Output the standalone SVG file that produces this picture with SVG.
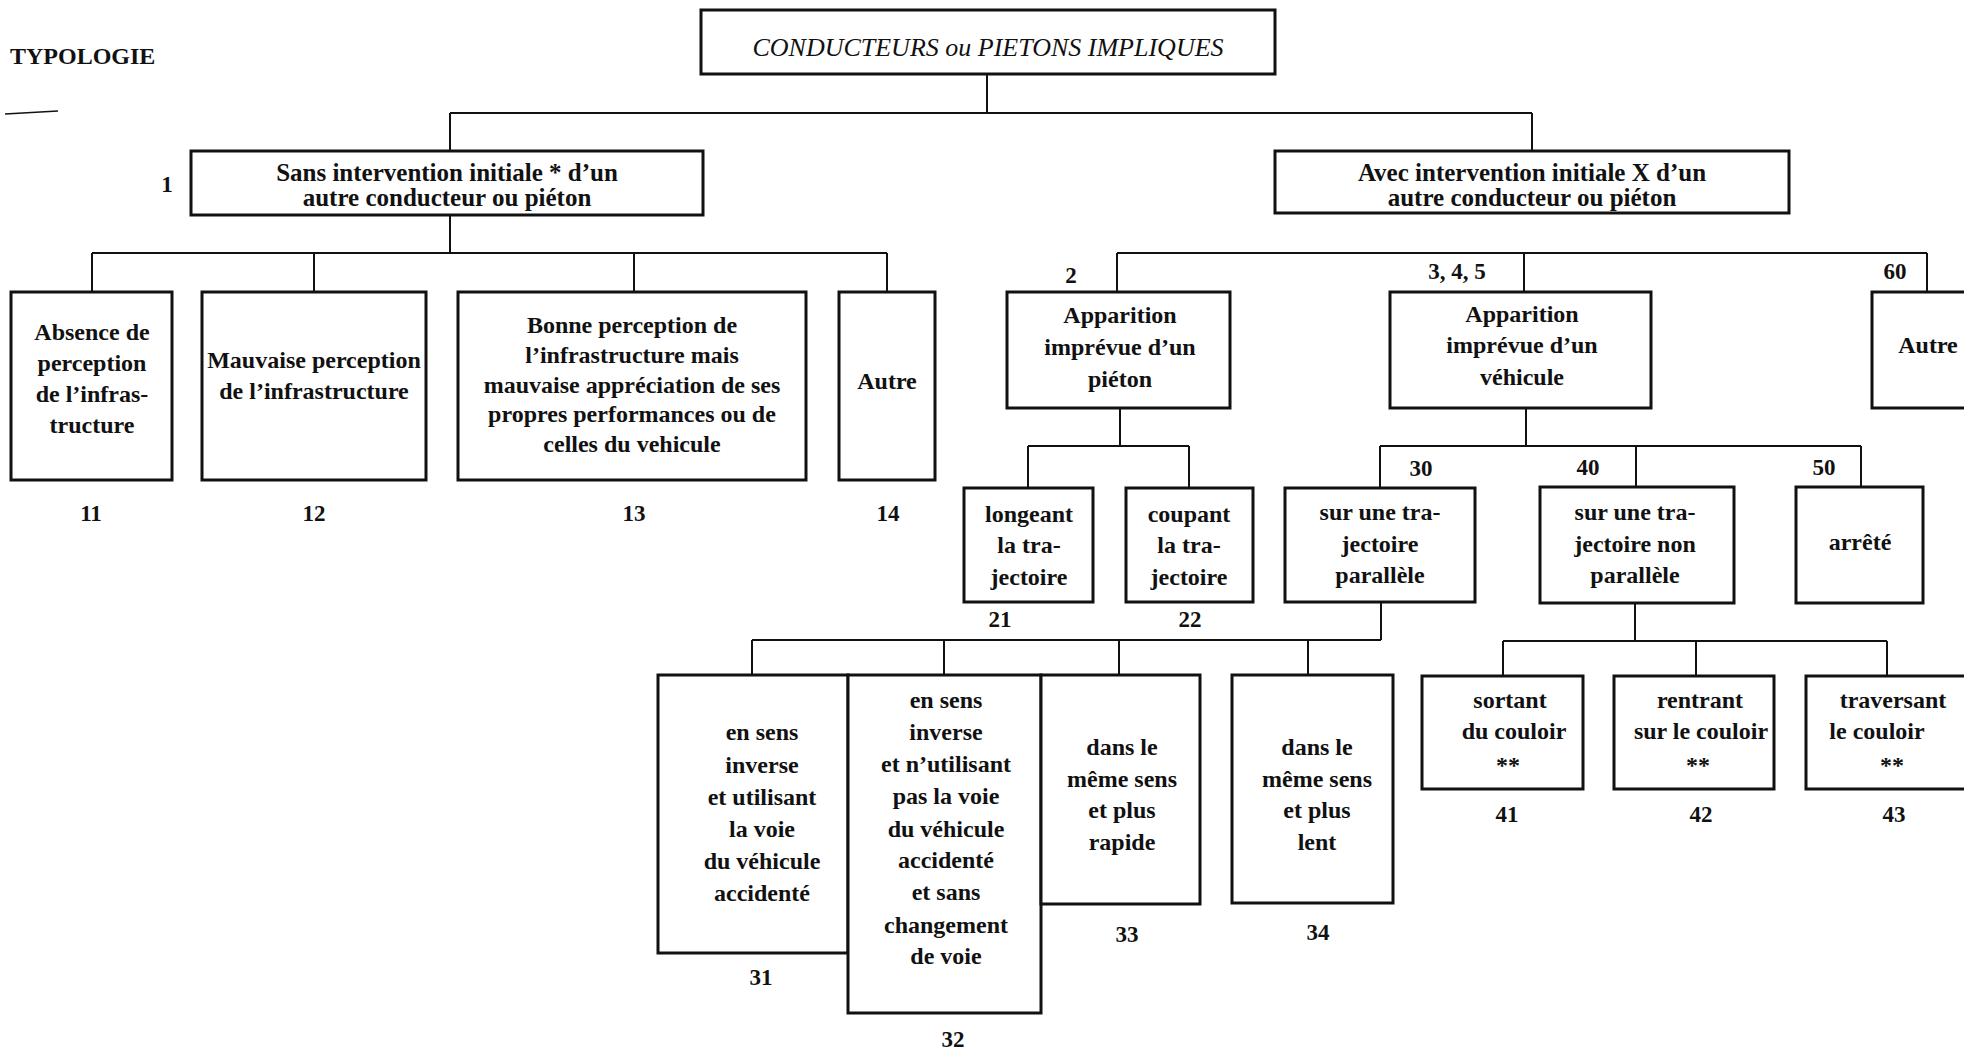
<svg xmlns="http://www.w3.org/2000/svg" width="1964" height="1051" viewBox="0 0 1964 1051">
<style>
.box{fill:#fff;stroke:#111;stroke-width:3}
.ln{stroke:#111;stroke-width:2;fill:none}
.t{font-family:"Liberation Serif","Times New Roman",serif;font-weight:bold;font-size:24px;text-anchor:middle;fill:#111}
.n{font-family:"Liberation Serif","Times New Roman",serif;font-weight:bold;font-size:23px;text-anchor:middle;fill:#111}
.ti{font-family:"Liberation Serif","Times New Roman",serif;font-style:italic;font-size:26px;text-anchor:middle;fill:#111}
</style>
<rect width="1964" height="1051" fill="#fff"/>

<g id="connectors">
  <path class="ln" d="M987 74V113M450 113H1532M450 113V151M1532 113V151"/>
  <path class="ln" d="M450 215V253M92 253H887M92 253V292M314 253V292M634 253V292M887 253V292"/>
  <path class="ln" d="M1117 253H1927M1117 253V292M1524 253V292M1927 253V292"/>
  <path class="ln" d="M1120 408V446M1028 446H1189M1028 446V487M1189 446V487"/>
  <path class="ln" d="M1526 408V446M1380 446H1861M1380 446V487M1636 446V487M1861 446V487"/>
  <path class="ln" d="M1381 602V640M752 640H1381M752 640V675M944 640V675M1119 640V675M1308 640V675"/>
  <path class="ln" d="M1635 603V641M1503 641H1887M1503 641V676M1696 641V676M1887 641V676"/>
</g>

<g id="typologie">
  <text x="10" y="64" font-family="Liberation Serif, Times New Roman, serif" font-weight="bold" font-size="24" fill="#111">TYPOLOGIE</text>
  <line x1="5" y1="114" x2="58" y2="111" stroke="#111" stroke-width="1.5"/>
</g>

<g id="root">
  <rect class="box" x="701" y="10" width="574" height="64"/>
  <text class="ti" x="988" y="56">CONDUCTEURS ou PIETONS IMPLIQUES</text>
</g>

<g id="n1">
  <rect class="box" x="191" y="151" width="512" height="64"/>
  <text class="t" x="447" y="181" style="font-size:25px">Sans intervention initiale * d’un</text>
  <text class="t" x="447" y="206" style="font-size:25px">autre conducteur ou piéton</text>
  <text class="n" x="167" y="192" font-weight="normal">1</text>
</g>

<g id="n2">
  <rect class="box" x="1275" y="151" width="514" height="62"/>
  <text class="t" x="1532" y="181" style="font-size:25px">Avec intervention initiale X d’un</text>
  <text class="t" x="1532" y="206" style="font-size:25px">autre conducteur ou piéton</text>
</g>

<g id="n11">
  <rect class="box" x="11" y="292" width="161" height="188"/>
  <text class="t" x="92" y="340">Absence de</text>
  <text class="t" x="92" y="371">perception</text>
  <text class="t" x="92" y="402">de l’infras-</text>
  <text class="t" x="92" y="433">tructure</text>
  <text class="n" x="91" y="521">11</text>
</g>

<g id="n12">
  <rect class="box" x="202" y="292" width="224" height="188"/>
  <text class="t" x="314" y="368">Mauvaise perception</text>
  <text class="t" x="314" y="399">de l’infrastructure</text>
  <text class="n" x="314" y="521">12</text>
</g>

<g id="n13">
  <rect class="box" x="458" y="292" width="348" height="188"/>
  <text class="t" x="632" y="333">Bonne perception de</text>
  <text class="t" x="632" y="363">l’infrastructure mais</text>
  <text class="t" x="632" y="393">mauvaise appréciation de ses</text>
  <text class="t" x="632" y="422">propres performances ou de</text>
  <text class="t" x="632" y="452">celles du vehicule</text>
  <text class="n" x="634" y="521">13</text>
</g>

<g id="n14">
  <rect class="box" x="839" y="292" width="96" height="188"/>
  <text class="t" x="887" y="389">Autre</text>
  <text class="n" x="888" y="521">14</text>
</g>

<g id="n20">
  <rect class="box" x="1007" y="292" width="223" height="116"/>
  <text class="t" x="1120" y="323">Apparition</text>
  <text class="t" x="1120" y="355">imprévue d’un</text>
  <text class="t" x="1120" y="387">piéton</text>
  <text class="n" x="1071" y="283">2</text>
</g>

<g id="n345">
  <rect class="box" x="1390" y="292" width="261" height="116"/>
  <text class="t" x="1522" y="322">Apparition</text>
  <text class="t" x="1522" y="353">imprévue d’un</text>
  <text class="t" x="1522" y="385">véhicule</text>
  <text class="n" x="1457" y="279">3, 4, 5</text>
</g>

<g id="n60">
  <rect class="box" x="1872" y="292" width="100" height="116"/>
  <text class="t" x="1928" y="353">Autre</text>
  <text class="n" x="1895" y="279">60</text>
</g>

<g id="n21">
  <rect class="box" x="964" y="488" width="129" height="114"/>
  <text class="t" x="1029" y="522">longeant</text>
  <text class="t" x="1029" y="553">la tra-</text>
  <text class="t" x="1029" y="585">jectoire</text>
  <text class="n" x="1000" y="627">21</text>
</g>

<g id="n22">
  <rect class="box" x="1126" y="488" width="127" height="114"/>
  <text class="t" x="1189" y="522">coupant</text>
  <text class="t" x="1189" y="553">la tra-</text>
  <text class="t" x="1189" y="585">jectoire</text>
  <text class="n" x="1190" y="627">22</text>
</g>

<g id="n30">
  <rect class="box" x="1285" y="488" width="190" height="114"/>
  <text class="t" x="1380" y="520">sur une tra-</text>
  <text class="t" x="1380" y="552">jectoire</text>
  <text class="t" x="1380" y="583">parallèle</text>
  <text class="n" x="1421" y="476">30</text>
</g>

<g id="n40">
  <rect class="box" x="1540" y="487" width="194" height="116"/>
  <text class="t" x="1635" y="520">sur une tra-</text>
  <text class="t" x="1635" y="552">jectoire non</text>
  <text class="t" x="1635" y="583">parallèle</text>
  <text class="n" x="1588" y="475">40</text>
</g>

<g id="n50">
  <rect class="box" x="1796" y="487" width="127" height="116"/>
  <text class="t" x="1860" y="550">arrêté</text>
  <text class="n" x="1824" y="475">50</text>
</g>

<g id="n31">
  <rect class="box" x="658" y="675" width="190" height="278"/>
  <text class="t" x="762" y="740">en sens</text>
  <text class="t" x="762" y="773">inverse</text>
  <text class="t" x="762" y="805">et utilisant</text>
  <text class="t" x="762" y="837">la voie</text>
  <text class="t" x="762" y="869">du véhicule</text>
  <text class="t" x="762" y="901">accidenté</text>
  <text class="n" x="761" y="985">31</text>
</g>

<g id="n32">
  <rect class="box" x="848" y="675" width="193" height="338"/>
  <text class="t" x="946" y="708">en sens</text>
  <text class="t" x="946" y="740">inverse</text>
  <text class="t" x="946" y="772">et n’utilisant</text>
  <text class="t" x="946" y="804">pas la voie</text>
  <text class="t" x="946" y="837">du véhicule</text>
  <text class="t" x="946" y="868">accidenté</text>
  <text class="t" x="946" y="900">et sans</text>
  <text class="t" x="946" y="933">changement</text>
  <text class="t" x="946" y="964">de voie</text>
  <text class="n" x="953" y="1047">32</text>
</g>

<g id="n33">
  <rect class="box" x="1041" y="675" width="159" height="229"/>
  <text class="t" x="1122" y="755">dans le</text>
  <text class="t" x="1122" y="787">même sens</text>
  <text class="t" x="1122" y="818">et plus</text>
  <text class="t" x="1122" y="850">rapide</text>
  <text class="n" x="1127" y="942">33</text>
</g>

<g id="n34">
  <rect class="box" x="1232" y="675" width="161" height="228"/>
  <text class="t" x="1317" y="755">dans le</text>
  <text class="t" x="1317" y="787">même sens</text>
  <text class="t" x="1317" y="818">et plus</text>
  <text class="t" x="1317" y="850">lent</text>
  <text class="n" x="1318" y="940">34</text>
</g>

<g id="n41">
  <rect class="box" x="1422" y="676" width="161" height="113"/>
  <text class="t" x="1510" y="708">sortant</text>
  <text class="t" x="1514" y="739">du couloir</text>
  <text class="t" x="1508" y="773">**</text>
  <text class="n" x="1507" y="822">41</text>
</g>

<g id="n42">
  <rect class="box" x="1614" y="676" width="160" height="113"/>
  <text class="t" x="1700" y="708">rentrant</text>
  <text class="t" x="1701" y="739">sur le couloir</text>
  <text class="t" x="1698" y="773">**</text>
  <text class="n" x="1701" y="822">42</text>
</g>

<g id="n43">
  <rect class="box" x="1806" y="676" width="166" height="113"/>
  <text class="t" x="1893" y="708">traversant</text>
  <text class="t" x="1877" y="739">le couloir</text>
  <text class="t" x="1892" y="773">**</text>
  <text class="n" x="1894" y="822">43</text>
</g>
</svg>
